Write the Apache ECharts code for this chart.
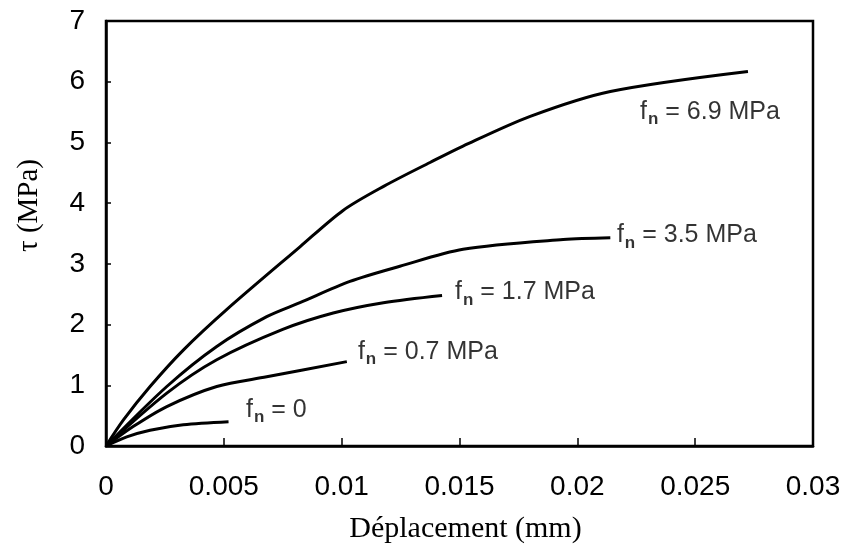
<!DOCTYPE html>
<html><head><meta charset="utf-8">
<script src="https://cdn.jsdelivr.net/npm/echarts@6/dist/echarts.min.js"></script>
<style>html,body{margin:0;padding:0;background:#fff}#c{width:845px;height:552px}</style>
</head><body><div id="c"></div>
<script>
// Data (displacement in mm, shear stress in MPa)
const xTicks = [0, 0.005, 0.01, 0.015, 0.02, 0.025, 0.03];
const yTicks = [0, 1, 2, 3, 4, 5, 6, 7];
const curve69 = [[0,0],[0.00074,0.43],[0.00187,0.98],[0.00328,1.58],[0.00513,2.25],[0.00823,3.28],[0.01006,3.88],[0.0118,4.28],[0.01375,4.67],[0.01515,4.94],[0.018,5.43],[0.0214,5.84],[0.02724,6.17]];
const curve35 = [[0,0],[0.00258,0.98],[0.0047,1.64],[0.00682,2.13],[0.00823,2.36],[0.01035,2.71],[0.01247,2.96],[0.01515,3.24],[0.0194,3.40],[0.0214,3.43]];
const curve17 = [[0,0],[0.00258,0.87],[0.0047,1.42],[0.0075,1.92],[0.00964,2.19],[0.01177,2.36],[0.01426,2.48]];
const curve07 = [[0,0],[0.00115,0.32],[0.00258,0.65],[0.0047,0.98],[0.00682,1.14],[0.01022,1.39]];
const curve00 = [[0,0],[0.00088,0.15],[0.00187,0.26],[0.00328,0.35],[0.0052,0.40]];
const labelTexts = ['6.9 MPa','3.5 MPa','1.7 MPa','0.7 MPa','0'];
const labelAnchors = [[0.02266,5.50],[0.02168,3.47],[0.01481,2.53],[0.01069,1.55],[0.00594,0.59]];

const chart = echarts.init(document.getElementById('c'), null, {renderer:'canvas'});
const sans = 'Liberation Sans, Arial, sans-serif';
const serif = 'Liberation Serif, Times New Roman, serif';
function line(data){
  return {type:'line', data:data, smooth:0.3, showSymbol:false, symbol:'none',
    lineStyle:{color:'#000', width:3}, z:3, silent:true};
}
chart.setOption({
  animation:false,
  grid:{left:106, right:32, top:21, bottom:106, show:true, borderColor:'#000', borderWidth:2.5, backgroundColor:'transparent'},
  xAxis:{type:'value', min:0, max:0.03, interval:0.005,
    name:'Déplacement (mm)', nameLocation:'middle', nameGap:68,
    nameTextStyle:{fontFamily:serif, fontSize:30, color:'#000', padding:[0,0,0,12]},
    axisLine:{show:true, lineStyle:{color:'#000', width:2.5}},
    axisTick:{show:true, inside:true, length:8, lineStyle:{color:'#000', width:1.5}},
    axisLabel:{margin:27, fontFamily:sans, fontSize:28, color:'#000',
      formatter:v=>String(+v.toFixed(3))},
    splitLine:{show:false}},
  yAxis:{type:'value', min:0, max:7, interval:1,
    name:'τ (MPa)', nameLocation:'middle', nameGap:62, nameRotate:90,
    nameTextStyle:{fontFamily:serif, fontSize:29, color:'#000', padding:[0,0,0,56]},
    axisLine:{show:true, lineStyle:{color:'#000', width:2.5}},
    axisTick:{show:true, inside:true, length:5, lineStyle:{color:'#000', width:1.5}},
    axisLabel:{margin:21, fontFamily:sans, fontSize:28, color:'#000'},
    splitLine:{show:false}},
  series:[
    line(curve69), line(curve35), line(curve17), line(curve07), line(curve00),
    {type:'scatter', symbolSize:0, silent:true, z:5,
      data:labelAnchors.map((p,i)=>({value:p, name:labelTexts[i]})),
      label:{show:true, position:'right', distance:0,
        formatter:p=>'{f|f}{s|n}{t| = '+p.name+'}',
        rich:{
          f:{fontFamily:sans, fontSize:25, color:'#000', lineHeight:32, verticalAlign:'middle'},
          s:{fontFamily:sans, fontSize:17, fontWeight:'bold', color:'#000', lineHeight:32, verticalAlign:'bottom', padding:[0,0,0,1]},
          t:{fontFamily:sans, fontSize:25, color:'#000', lineHeight:32, verticalAlign:'middle'}
        }}}
  ]
});
</script></body></html>
